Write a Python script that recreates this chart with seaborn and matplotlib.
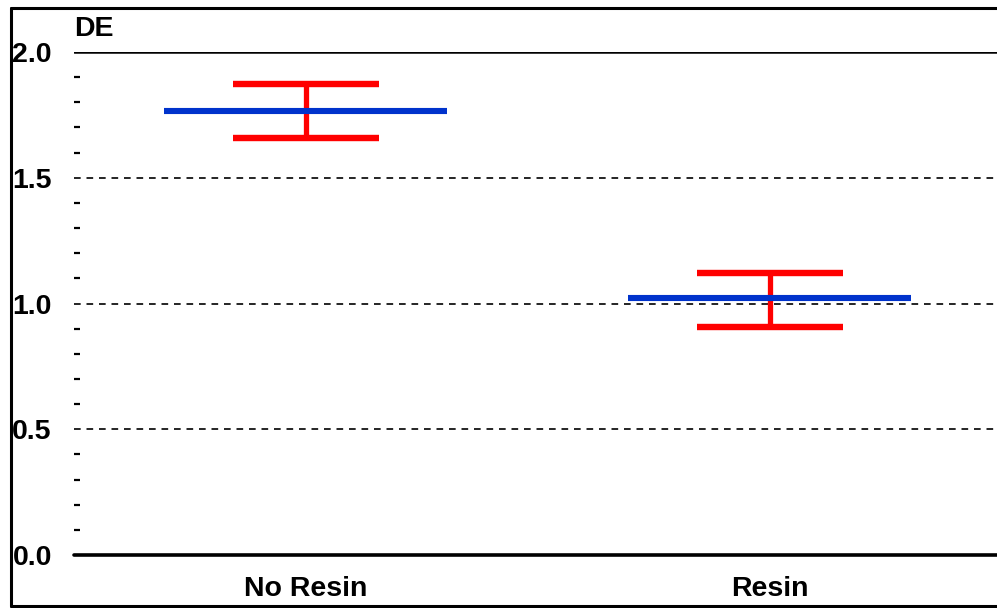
import numpy as np
import matplotlib
matplotlib.use("Agg")
import matplotlib.pyplot as plt
from matplotlib.lines import Line2D
from matplotlib.ticker import MultipleLocator
import seaborn as sns

# values
groups = ["No Resin", "Resin"]
means = [1.765, 1.022]
upper = [1.873, 1.121]
lower = [1.658, 0.907]
major_ticks = [0.0, 0.5, 1.0, 1.5, 2.0]
tick_labels = ["0.0", "0.5", "1.0", "1.5", "2.0"]

sns.set_style("white")
plt.rcParams['font.family'] = ['Liberation Sans', 'DejaVu Sans']

W, H = 997, 608
fig = plt.figure(figsize=(W / 100, H / 100), dpi=100)
ax = fig.add_axes([74 / W, 53 / H, 1 - 74 / W, (555 - 52) / H])

x = np.arange(len(groups))
blue = "#0033cc"
red = "#ff0000"

# reference lines
for yv in [0.5, 1.0, 1.5]:
    ax.axhline(yv, color="black", lw=1.2, dashes=(4, 3.5), zorder=1)
ax.axhline(2.0, color="black", lw=1.8, zorder=1)
ax.axhline(0.0, color="black", lw=2.6, zorder=1, clip_on=False)

# error bars
ax.vlines(x, lower, upper, color=red, lw=3.8, zorder=2)
ax.hlines(upper, x - 0.157, x + 0.157, color=red, lw=4.6, zorder=2)
ax.hlines(lower, x - 0.157, x + 0.157, color=red, lw=4.6, zorder=2)
# means
ax.hlines(means, x - 0.305, x + 0.305, color=blue, lw=4.4, zorder=3)

ax.set_xlim(-0.5, 1.49)
ax.set_ylim(0, 2.0)
ax.set_xticks(x, groups)
ax.set_yticks(major_ticks, tick_labels)
ax.yaxis.set_minor_locator(MultipleLocator(0.1))
ax.tick_params(axis="y", which="major", length=0, pad=16)
ax.tick_params(axis="y", which="minor", direction="in", length=4.5, width=1.6,
               color="black", left=True)
ax.tick_params(axis="x", length=0, pad=15)
for lab in ax.get_xticklabels() + ax.get_yticklabels():
    lab.set_fontsize(20.5)
    lab.set_fontweight("bold")
    lab.set_color("black")
for s in ax.spines.values():
    s.set_visible(False)
ax.grid(False)

fig.text(74 / W, 1 - 29 / H, "DE", fontsize=20.5, fontweight="bold",
         color="black", ha="left", va="center")

# outer frame
lw = 2.2
left, top, bot = 10.5 / W, 1 - 8 / H, 1 - 606 / H
fig.add_artist(Line2D([left, 1], [top, top], transform=fig.transFigure, color="black", lw=lw))
fig.add_artist(Line2D([left, left], [top, bot], transform=fig.transFigure, color="black", lw=lw))
fig.add_artist(Line2D([left, 1], [bot, bot], transform=fig.transFigure, color="black", lw=lw))

fig.savefig("out.png", dpi=100)
